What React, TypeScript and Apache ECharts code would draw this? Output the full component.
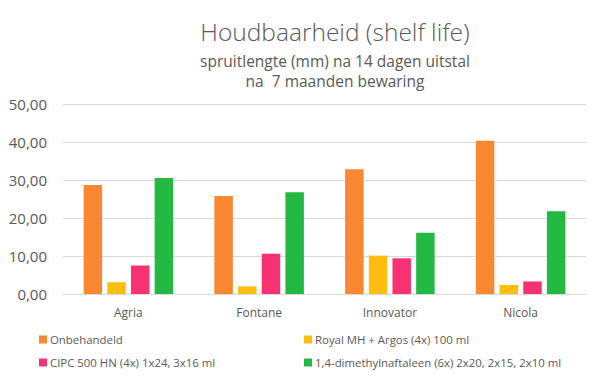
import React, { useEffect, useRef } from "react";
import * as echarts from "echarts";

const categories = ["Agria", "Fontane", "Innovator", "Nicola"];
const seriesNames = [
  "Onbehandeld",
  "Royal MH + Argos (4x) 100 ml",
  "CIPC 500 HN (4x) 1x24, 3x16 ml",
  "1,4-dimethylnaftaleen (6x) 2x20, 2x15, 2x10 ml",
];
const onbehandeld = [28.7, 25.8, 32.8, 40.3];
const royal = [3.1, 2.0, 10.1, 2.4];
const cipc = [7.5, 10.6, 9.4, 3.3];
const dmn = [30.5, 26.8, 16.1, 21.8];
const colors = ["#FA8732", "#FEBE10", "#F73273", "#23B943"];
const legendPos = [
  { left: 39, top: 334 },
  { left: 304, top: 334 },
  { left: 39, top: 357 },
  { left: 304, top: 357 },
];

export default function App() {
  const ref = useRef<HTMLDivElement>(null);
  useEffect(() => {
    const chart = echarts.init(ref.current!, null, { renderer: "svg" });
    const values = [onbehandeld, royal, cipc, dmn];
    const font = "'Open Sans', 'Noto Sans', sans-serif";
    chart.setOption({
      animation: false,
      textStyle: { fontFamily: font },
      title: [
        {
          text: "Houdbaarheid (shelf life)",
          left: 330,
          textAlign: "center",
          top: 14,
          textStyle: { fontSize: 24.5, fontWeight: 300, color: "#595959", fontFamily: font },
        },
        {
          text: "spruitlengte (mm) na 14 dagen uitstal\nna  7 maanden bewaring",
          left: 330,
          textAlign: "center",
          top: 46,
          textStyle: { fontSize: 15.5, fontWeight: 400, color: "#595959", lineHeight: 20, fontFamily: font },
        },
      ],
      legend: seriesNames.map((n, i) => ({
        data: [n],
        left: legendPos[i].left,
        top: legendPos[i].top,
        icon: "rect",
        itemWidth: 8,
        itemHeight: 8,
        itemGap: 4,
        padding: 0,
        textStyle: { fontSize: 11.4, color: "#595959", padding: [0, 0, 0, -2], fontFamily: font },
      })),
      grid: { left: 63, right: 14, top: 104, bottom: 85 },
      xAxis: {
        type: "category",
        data: categories,
        axisTick: { show: false },
        axisLine: { lineStyle: { color: "#D9D9D9" } },
        axisLabel: { fontSize: 12, color: "#595959", margin: 12 },
      },
      yAxis: {
        type: "value",
        min: 0,
        max: 50,
        interval: 10,
        axisLabel: {
          fontSize: 15,
          color: "#595959",
          margin: 16,
          formatter: (v: number) => v.toFixed(2).replace(".", ","),
        },
        splitLine: { lineStyle: { color: "#D9D9D9" } },
        axisLine: { show: false },
        axisTick: { show: false },
      },
      series: seriesNames.map((n, i) => ({
        name: n,
        type: "bar",
        data: values[i],
        barWidth: 18.5,
        barGap: "28%",
        itemStyle: { color: colors[i] },
      })),
    });
    return () => chart.dispose();
  }, []);
  return <div ref={ref} style={{ width: 600, height: 379, position: "absolute", left: 0, top: 0 }} />;
}
